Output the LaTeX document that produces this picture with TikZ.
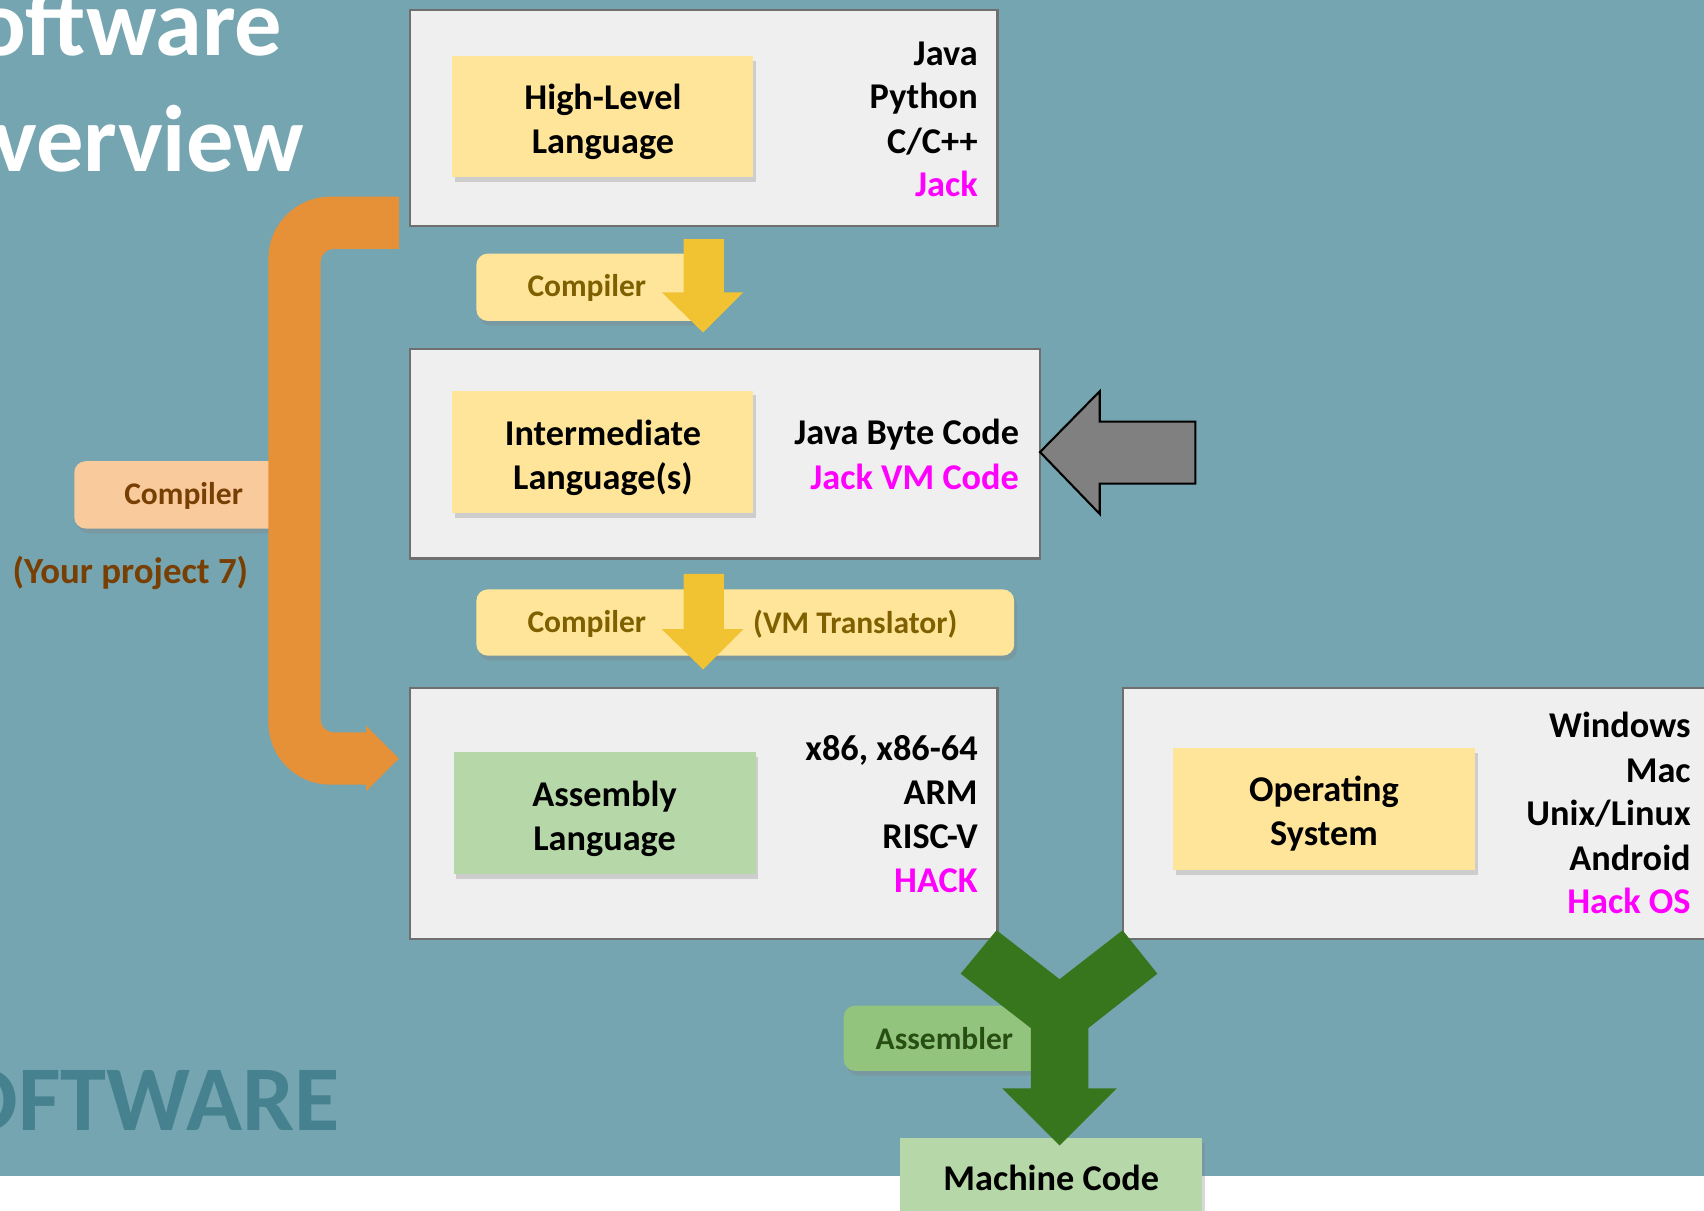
\documentclass[tikz,border=0pt]{standalone}
\usepackage{fontspec}
\setmainfont{Carlito}
\usetikzlibrary{shadows}
\definecolor{bgteal}{HTML}{75A5B0}
\definecolor{panelfill}{HTML}{EFEFEF}
\definecolor{panelline}{HTML}{6F6F6F}
\definecolor{yelbox}{HTML}{FFE599}
\definecolor{grnbox}{HTML}{B6D7A8}
\definecolor{lbltxt}{HTML}{7F6000}
\definecolor{arryel}{HTML}{F1C232}
\definecolor{orangearr}{HTML}{E69138}
\definecolor{orangelbl}{HTML}{F9CB9C}
\definecolor{browntxt}{HTML}{783F04}
\definecolor{asmlbl}{HTML}{93C47D}
\definecolor{asmtxt}{HTML}{274E13}
\definecolor{greenarr}{HTML}{38761D}
\definecolor{grayarr}{HTML}{808080}
\definecolor{wmcol}{HTML}{45818E}
\definecolor{hot}{HTML}{FF00FF}
\newcommand\bxfont{\fontsize{19}{23}\selectfont\bfseries}
\newcommand\lbfont{\fontsize{16.5}{20}\selectfont\bfseries}
\newcommand\prjfont{\fontsize{19.3}{23}\selectfont\bfseries}
\newcommand\ttlfont{\fontsize{49.5}{60}\selectfont\bfseries}
\newcommand\wmfont{\fontsize{48.5}{58}\selectfont\bfseries}
\begin{document}
\begin{tikzpicture}[x=0.02cm,y=-0.02cm,
  panel/.style={draw=panelline,line width=1.1pt,fill=panelfill,anchor=north west,inner sep=0},
  shad/.style={drop shadow={shadow xshift=1.5pt,shadow yshift=-2.5pt,opacity=0.3}},
  innerbox/.style={shad,anchor=north west,minimum width=5.56cm,minimum height=2.24cm,inner sep=0},
  yelinner/.style={innerbox,fill=yelbox},
  grninner/.style={innerbox,fill=grnbox},
  boxtext/.style={inner sep=0,align=center,font=\bxfont,text=black},
  lblbox/.style={shad,anchor=north west,rounded corners=6pt,inner sep=0},
  lbltext/.style={font=\lbfont,inner sep=0},
  listtxt/.style={anchor=base east,font=\bxfont,inner sep=0,text=black},
  hotlist/.style={listtxt,text=hot}]
\clip (0,0) rectangle (1568,1114);
\fill[white] (0,0) rectangle (1568,1114);
\fill[bgteal] (0,0) rectangle (1568,1082);

% titles
\node[anchor=base east,font=\ttlfont,text=white,inner sep=0] (title1) at (260,51) {Software};
\node[anchor=base east,font=\ttlfont,text=white,inner sep=0] (title2) at (280,158) {Overview};
\node[anchor=base east,font=\wmfont,text=wmcol,inner sep=0] (wmark) at (313,1040) {SOFTWARE};

% panels
\node[panel,minimum width=10.82cm,minimum height=3.98cm] (hlpanel) at (376,8) {};
\node[panel,minimum width=11.6cm,minimum height=3.86cm] (ilpanel) at (376,320) {};
\node[panel,minimum width=10.82cm,minimum height=4.62cm] (asmpanel) at (376,632) {};
\node[panel,minimum width=11.6cm,minimum height=4.62cm] (ospanel) at (1032,632) {};

% inner boxes
\node[yelinner,minimum width=5.54cm] (hll) at (416,51) {};
\node[boxtext] (hllt) at ([yshift=-2.6pt]hll.center) {High-Level\\Language};
\node[yelinner,minimum width=5.54cm,minimum height=2.26cm] (il) at (416,359) {};
\node[boxtext] (ilt) at ([yshift=-3.2pt]il.center) {Intermediate\\Language(s)};
\node[grninner] (asm) at (417,692) {};
\node[boxtext] (asmt2) at ([yshift=-2.8pt]asm.center) {Assembly\\Language};
\node[yelinner] (os) at (1079,688) {};
\node[boxtext] (ost) at ([yshift=-2.6pt]os.center) {Operating\\System};

% lists
\node[listtxt] (l1a) at (900,60) {Java};
\node[listtxt] (l1b) at (900,100) {Python};
\node[listtxt] (l1c) at (900,141) {C/C++};
\node[hotlist] (l1d) at (900,181) {Jack};
\node[listtxt] (l2a) at (938,409) {Java Byte Code};
\node[hotlist] (l2b) at (938,450) {Jack VM Code};
\node[listtxt] (l3a) at (900,700) {x86, x86-64};
\node[listtxt] (l3b) at (900,740) {ARM};
\node[listtxt] (l3c) at (900,781) {RISC-V};
\node[hotlist] (l3d) at (900,821) {HACK};
\node[listtxt] (l4a) at (1556,679) {Windows};
\node[listtxt] (l4b) at (1556,720) {Mac};
\node[listtxt] (l4c) at (1556,760) {Unix/Linux};
\node[listtxt] (l4d) at (1556,801) {Android};
\node[hotlist] (l4e) at (1556,841) {Hack OS};

% gray arrow
\draw[fill=grayarr,draw=black,line width=1.1pt,line join=miter]
  (957,416) -- (1012,360) -- (1012,388) -- (1100,388) -- (1100,445) -- (1012,445) -- (1012,473) -- cycle;

% yellow compiler labels and arrows
\node[lblbox,fill=yelbox,minimum width=4.4cm,minimum height=1.24cm] (c1box) at (438,233) {};
\node[lbltext,text=lbltxt] (c1) at (540,265) {Compiler};
\fill[arryel] (629,220) -- (666,220) -- (666,269) -- (684,269) -- (647,306) -- (609,269) -- (629,269) -- cycle;

\node[lblbox,fill=yelbox,minimum width=9.9cm,minimum height=1.22cm] (c2box) at (438,542) {};
\node[lbltext,text=lbltxt] (c2) at (540,574) {Compiler};
\node[lbltext,text=lbltxt] (vmt) at (787,574) {(VM Translator)};
\fill[arryel] (629,528) -- (666,528) -- (666,579) -- (684,579) -- (647,616) -- (609,579) -- (629,579) -- cycle;

% orange compiler label and bracket arrow
\node[lblbox,fill=orangelbl,minimum width=3.9cm,minimum height=1.24cm] (c3box) at (68,424) {};
\node[lbltext,text=browntxt] (c3) at (169,456) {Compiler};
\node[inner sep=0,font=\prjfont,text=browntxt] (proj) at (120,527) {(Your project 7)};
\fill[orangearr] (367,181) -- (304,181) .. controls (272.5,181) and (247,206.5) .. (247,238)
  -- (247,665) .. controls (247,696.5) and (272.5,722) .. (304,722)
  -- (337,722) -- (337,728) -- (367,698) -- (337,668) -- (337,674)
  -- (307,674) .. controls (300.4,674) and (295,668.6) .. (295,662)
  -- (295,241) .. controls (295,234.4) and (300.4,229) .. (307,229)
  -- (367,229) -- cycle;

% machine code and assembler
\node[grninner,minimum height=1.44cm] (mc) at (828,1047) {};
\node[boxtext] (mct) at ([yshift=-0.5pt]mc.center) {Machine Code};
\node[lblbox,fill=asmlbl,minimum width=4cm,minimum height=1.2cm] (asmbox) at (776,925) {};
\node[lbltext,text=asmtxt] (asmt) at (869,956) {Assembler};
\fill[greenarr] (884,896) -- (917,856) -- (975,901) -- (1033,856) -- (1065,896) -- (1001.5,946)
  -- (1001.5,1001.5) -- (1027.6,1001.5) -- (975,1054) -- (922.3,1001.5) -- (948.5,1001.5)
  -- (948.5,946) -- cycle;
\end{tikzpicture}
\end{document}
